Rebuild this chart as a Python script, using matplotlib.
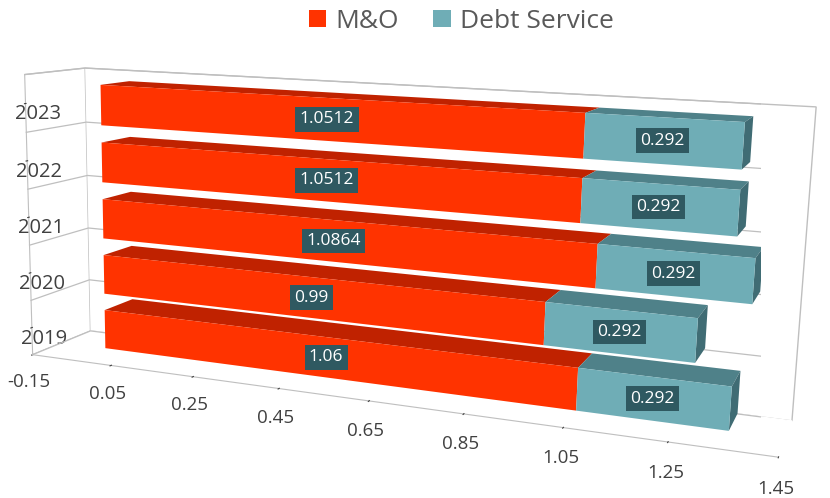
import numpy as np
import matplotlib
matplotlib.use("Agg")
import matplotlib.pyplot as plt
from matplotlib.patches import Patch

# tax rate split per year
years = ["2019", "2020", "2021", "2022", "2023"]
mo_rate = [1.06, 0.99, 1.0864, 1.0512, 1.0512]
debt_rate = [0.292, 0.292, 0.292, 0.292, 0.292]
x_ticks = [-0.15, 0.05, 0.25, 0.45, 0.65, 0.85, 1.05, 1.25, 1.45]

RED_FRONT = "#FF3300"
RED_TOP = "#C02200"
TEAL_FRONT = "#6FADB6"
TEAL_TOP = "#4F8189"
TEAL_SIDE = "#406C74"
LABEL_BOX = "#2F5961"
GRID = "#BFBFBF"
TEXT = "#404040"
NONE = (1, 1, 1, 0)

plt.rcParams['font.family'] = ['Open Sans', 'DejaVu Sans']

fig = plt.figure(figsize=(8.3, 4.98), dpi=100)
ax = fig.add_axes([-0.314, -0.264, 1.55, 1.52], projection='3d',
                  proj_type='persp', focal_length=0.35, computed_zorder=False)

x_min, x_max = -0.15, 1.45
depth0, depth = 0.25, 0.5
bar_h = 0.7
n = len(years)
z_pos = np.arange(n) + (1 - bar_h) / 2

# one bar3d call so the faces get depth-sorted together
xs = np.concatenate([np.zeros(n), mo_rate])
zs = np.concatenate([z_pos, z_pos])
dxs = np.concatenate([mo_rate, debt_rate])
face_colors = []
for i in range(n):
    # face order: -z, +z, -y, +y, -x, +x
    face_colors += [NONE, RED_TOP, RED_FRONT, NONE, NONE, NONE]
for i in range(n):
    face_colors += [NONE, TEAL_TOP, TEAL_FRONT, NONE, NONE, TEAL_SIDE]
ax.bar3d(xs, np.full(2 * n, depth0), zs, dxs, np.full(2 * n, depth),
         np.full(2 * n, bar_h), color=face_colors, shade=False,
         edgecolor=None, linewidth=0, zorder=3)

# value labels on the front faces
label_kw = dict(color="white", fontsize=12.5, ha="center", va="center", zorder=5,
                bbox=dict(boxstyle="square,pad=0.25", fc=LABEL_BOX, ec="none"))
for i in range(n):
    zc = z_pos[i] + bar_h / 2
    ax.text(mo_rate[i] / 2, depth0, zc, f"{mo_rate[i]:g}", **label_kw)
    ax.text(mo_rate[i] + debt_rate[i] / 2, depth0, zc, f"{debt_rate[i]:g}",
            **label_kw)

# category boundary lines across side wall and back wall
for k in range(n + 1):
    ax.plot([x_min, x_min, x_max], [0, 1, 1], [k, k, k], color=GRID,
            lw=0.9, zorder=1)

ax.set_xlim(x_min, x_max)
ax.set_ylim(0, 1)
ax.set_zlim(0, n)
ax.grid(False)
ax.set_xticks(x_ticks)
ax.set_xticklabels([f"{t:.2f}" for t in x_ticks])
ax.set_yticks([])
ax.set_zticks(np.arange(n) + 0.5)
ax.set_zticklabels(years)
ax.zaxis.set_ticks_position("lower")
ax.zaxis.set_label_position("lower")
ax.tick_params(axis="x", labelsize=13.5, colors=TEXT, pad=10)
ax.tick_params(axis="z", labelsize=14.5, colors=TEXT, pad=-13)

for axis in (ax.xaxis, ax.yaxis, ax.zaxis):
    axis.set_pane_color((1, 1, 1, 1))
    axis.line.set_color(GRID)
ax.xaxis.pane.set_edgecolor(GRID)
ax.yaxis.pane.set_edgecolor(GRID)
ax.zaxis.pane.set_edgecolor(NONE)
ax.yaxis.line.set_color(NONE)

ax.set_box_aspect((5.335, 0.765, 2.05), zoom=1.088)
ax.view_init(elev=11, azim=-69, roll=-1.2)

handles = [Patch(fc=RED_FRONT), Patch(fc=TEAL_FRONT)]
fig.legend(handles, ["M&O", "Debt Service"], loc="upper center",
           bbox_to_anchor=(0.556, 1.03), ncol=2, frameon=False, fontsize=19,
           handlelength=0.65, handleheight=0.65, handletextpad=0.35,
           columnspacing=1.3, labelcolor="#595959")

fig.savefig("out.png", dpi=100, facecolor="white")
